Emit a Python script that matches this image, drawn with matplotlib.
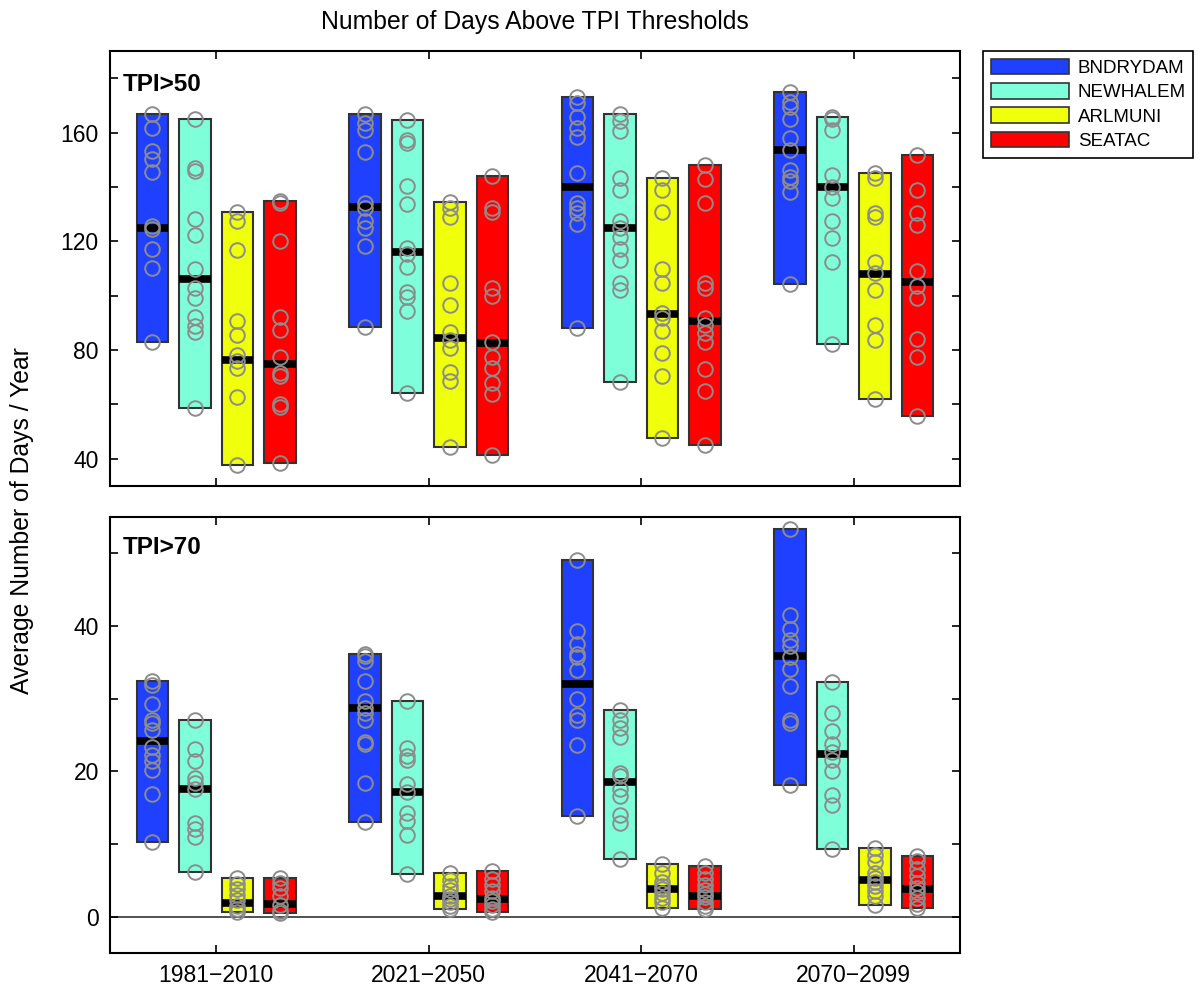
import matplotlib
matplotlib.use("Agg")
import matplotlib.pyplot as plt
from matplotlib.patches import Patch

plt.rcParams["font.family"] = ["Liberation Sans", "DejaVu Sans"]

# ================== DATA ==================
periods = ["1981\u22122010", "2021\u22122050", "2041\u22122070", "2070\u22122099"]
stations = ["BNDRYDAM", "NEWHALEM", "ARLMUNI", "SEATAC"]
colors = ["#2040ff", "#7fffd9", "#f0ff0a", "#ff0000"]

# TPI>50 : valores de cada modelo (um vetor por periodo)
tpi50_bndrydam = [
    [166.8, 161.6, 153.3, 150.2, 145.4, 125.8, 124.7, 117.2, 110.0, 83.0],
    [166.8, 163.4, 161.0, 152.7, 134.0, 132.2, 127.3, 124.8, 118.4, 88.4],
    [173.2, 170.8, 165.9, 161.6, 158.5, 145.3, 134.0, 132.2, 130.3, 126.3, 88.0],
    [175.0, 171.4, 169.5, 165.0, 157.9, 153.6, 146.3, 143.6, 142.0, 138.3, 104.3],
]
tpi50_newhalem = [
    [164.9, 147.1, 146.0, 128.2, 122.4, 109.7, 102.7, 99.1, 92.1, 88.9, 86.8, 58.6],
    [164.6, 157.3, 156.3, 140.5, 133.7, 117.5, 115.4, 110.7, 101.3, 99.4, 94.5, 64.1],
    [166.8, 164.4, 160.7, 143.2, 138.9, 127.3, 124.8, 121.7, 117.2, 113.2, 104.6, 102.1, 68.4],
    [165.6, 164.9, 161.0, 144.4, 140.1, 135.8, 127.3, 121.1, 112.5, 82.2],
]
tpi50_arlmuni = [
    [130.6, 127.5, 116.8, 90.7, 85.6, 78.2, 75.8, 73.3, 62.9, 37.8],
    [134.6, 132.2, 129.1, 104.6, 96.6, 86.6, 83.8, 80.7, 72.1, 68.5, 44.5],
    [143.2, 138.7, 130.9, 109.8, 104.8, 93.6, 91.7, 87.1, 78.8, 70.5, 47.6],
    [145.3, 143.2, 130.3, 129.1, 112.5, 108.3, 102.1, 89.3, 83.8, 61.9],
]
tpi50_seatac = [
    [134.9, 134.0, 120.1, 92.3, 87.2, 77.6, 71.7, 70.3, 60.1, 59.0, 38.4],
    [144.2, 132.2, 130.9, 102.7, 99.7, 82.8, 77.6, 73.3, 67.8, 63.8, 41.5],
    [148.1, 142.8, 134.0, 104.6, 102.7, 91.7, 89.3, 86.2, 82.8, 73.0, 65.1, 45.1],
    [151.8, 138.9, 130.3, 126.0, 108.9, 103.4, 99.1, 84.0, 77.6, 55.8],
]
tpi50_mediana = [
    [125.0, 132.5, 140.0, 153.6],
    [106.1, 116.1, 124.8, 140.1],
    [76.2, 84.6, 93.2, 108.1],
    [74.9, 82.5, 90.7, 105.2],
]

# TPI>70
tpi70_bndrydam = [
    [32.4, 31.9, 29.2, 27.0, 26.7, 25.7, 23.4, 22.3, 21.4, 20.2, 16.9, 10.3],
    [36.1, 35.9, 35.2, 32.4, 29.7, 28.7, 28.0, 27.1, 24.1, 23.7, 18.4, 13.0],
    [49.1, 39.3, 37.5, 36.2, 35.7, 33.9, 29.9, 27.8, 27.0, 23.6, 13.9],
    [53.3, 41.5, 39.6, 38.0, 37.2, 35.7, 34.1, 31.7, 27.0, 26.7, 18.1],
]
tpi70_newhalem = [
    [27.0, 23.0, 21.4, 19.1, 18.4, 17.5, 12.9, 12.0, 11.0, 6.1],
    [29.7, 23.2, 22.1, 21.6, 18.2, 17.2, 14.3, 13.1, 11.3, 5.9],
    [28.4, 27.0, 25.9, 24.7, 19.8, 19.3, 17.5, 16.6, 14.0, 12.9, 8.0],
    [32.3, 28.0, 25.6, 23.7, 22.7, 21.5, 20.1, 16.7, 15.3, 9.3],
]
tpi70_arlmuni = [
    [5.3, 4.5, 3.8, 3.0, 2.3, 1.5, 1.0, 0.6],
    [6.0, 5.0, 4.2, 3.6, 2.8, 2.4, 2.0, 1.5, 1.0],
    [7.2, 6.0, 4.8, 4.2, 3.8, 3.2, 2.6, 2.0, 1.2],
    [9.5, 8.5, 7.5, 6.0, 5.3, 4.8, 4.2, 3.5, 2.8, 1.6],
]
tpi70_seatac = [
    [5.3, 4.6, 4.0, 2.8, 1.6, 0.8, 0.5],
    [6.3, 5.2, 4.3, 3.5, 2.6, 2.2, 1.6, 1.1, 0.7],
    [6.9, 6.0, 5.2, 4.4, 3.6, 3.1, 2.7, 2.0, 1.5, 1.1],
    [8.4, 7.6, 6.5, 5.6, 4.6, 4.0, 3.4, 2.6, 1.8, 1.2],
]
tpi70_mediana = [
    [24.2, 28.7, 32.0, 35.8],
    [17.6, 17.2, 18.5, 22.4],
    [1.9, 2.8, 3.8, 5.1],
    [1.8, 2.4, 2.9, 3.8],
]

tpi50 = [tpi50_bndrydam, tpi50_newhalem, tpi50_arlmuni, tpi50_seatac]
tpi70 = [tpi70_bndrydam, tpi70_newhalem, tpi70_arlmuni, tpi70_seatac]

offsets = [-0.3, -0.1, 0.1, 0.3]
largura = 0.15


def painel(ax, dados, medianas):
    for s in range(len(stations)):
        for p in range(len(periods)):
            vals = dados[s][p]
            x = p + 1 + offsets[s]
            lo, hi = min(vals), max(vals)
            ax.bar(x, hi - lo, bottom=lo, width=largura, color=colors[s],
                   edgecolor="#333333", linewidth=1.5, zorder=2)
            ax.hlines(medianas[s][p], x - largura / 2, x + largura / 2,
                      color="black", linewidth=5.5, zorder=3)
            ax.plot([x] * len(vals), vals, "o", mfc="none", mec="#8c8c8c",
                    ms=10.5, mew=1.4, zorder=4)
    ax.set_xlim(0.5, 4.5)
    ax.set_xticks([1, 2, 3, 4])
    ax.tick_params(direction="in", top=True, right=True, length=6, width=1.2,
                   labelsize=16.5, pad=8)
    for sp in ax.spines.values():
        sp.set_linewidth(1.5)


fig = plt.figure(figsize=(11.98, 9.86), dpi=100)

# Painel de cima - TPI>50
ax1 = fig.add_axes([0.0918, 0.5071, 0.7095, 0.4412])
painel(ax1, tpi50, tpi50_mediana)
ax1.set_ylim(30, 190)
ax1.set_yticks(range(40, 181, 20))
ax1.set_yticklabels([str(v) if v % 40 == 0 else "" for v in range(40, 181, 20)])
ax1.set_xticklabels([])
ax1.text(0.0153, 0.922, "TPI>50", transform=ax1.transAxes, fontsize=17.5,
         fontweight="bold", va="center", ha="left")

# Painel de baixo - TPI>70
ax2 = fig.add_axes([0.0918, 0.0335, 0.7095, 0.4422])
ax2.axhline(0, color="#333333", linewidth=1.2, zorder=1)
painel(ax2, tpi70, tpi70_mediana)
ax2.set_ylim(-5, 55)
ax2.set_yticks(range(0, 51, 10))
ax2.set_yticklabels([str(v) if v % 20 == 0 else "" for v in range(0, 51, 10)])
ax2.set_xticklabels(periods)
ax2.text(0.0153, 0.930, "TPI>70", transform=ax2.transAxes, fontsize=17.5,
         fontweight="bold", va="center", ha="left")

fig.text(0.4466, 0.9777, "Number of Days Above TPI Thresholds", fontsize=17.8,
         ha="center", va="center")
fig.text(0.0184, 0.4716, "Average Number of Days / Year", fontsize=17.8,
         rotation=90, ha="center", va="center")

handles = [Patch(facecolor=c, edgecolor="#333333", linewidth=1.2) for c in colors]
leg = fig.legend(handles, stations, loc="upper left",
                 bbox_to_anchor=(983 / 1198, 1 - 51 / 986), borderaxespad=0,
                 fontsize=13.5, handlelength=4.2, handleheight=0.9,
                 labelspacing=0.33, handletextpad=0.45, borderpad=0.4,
                 fancybox=False, framealpha=1)
leg.get_frame().set_edgecolor("black")
leg.get_frame().set_linewidth(1.2)

plt.savefig("out.png", dpi=100)
plt.close()
